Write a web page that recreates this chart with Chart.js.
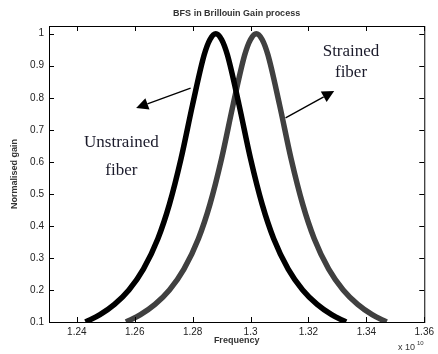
<!DOCTYPE html>
<html>
<head>
<meta charset="utf-8">
<script src="https://cdn.jsdelivr.net/npm/chart.js@4"></script>
<style>
  html, body { margin: 0; padding: 0; background: #fff; }
  #wrap { width: 438px; height: 354px; }
</style>
</head>
<body>
<div id="wrap"><canvas id="bfs"></canvas></div>
<script>
// Frequência em unidades de 1e10 Hz
const unstrainedFreq = [1.243, 1.248, 1.253, 1.258, 1.263, 1.268, 1.272, 1.276, 1.280, 1.284, 1.286, 1.288,
                        1.290, 1.292, 1.296, 1.300, 1.304, 1.308, 1.313, 1.318, 1.323, 1.328, 1.333];
const unstrainedGain = [0.1, 0.123, 0.155, 0.2, 0.265, 0.36, 0.468, 0.61, 0.779, 0.934, 0.982, 1,
                        0.982, 0.934, 0.779, 0.61, 0.468, 0.36, 0.265, 0.2, 0.155, 0.123, 0.1];
const strainedFreq = [1.257, 1.262, 1.267, 1.272, 1.277, 1.282, 1.286, 1.290, 1.294, 1.298, 1.300, 1.302,
                      1.304, 1.306, 1.310, 1.314, 1.318, 1.322, 1.327, 1.332, 1.337, 1.342, 1.347];
const strainedGain = [0.1, 0.123, 0.155, 0.2, 0.265, 0.36, 0.468, 0.61, 0.779, 0.934, 0.982, 1,
                      0.982, 0.934, 0.779, 0.61, 0.468, 0.36, 0.265, 0.2, 0.155, 0.123, 0.1];
const xTicks = [1.24, 1.26, 1.28, 1.30, 1.32, 1.34, 1.36];
const yTicks = [0.1, 0.2, 0.3, 0.4, 0.5, 0.6, 0.7, 0.8, 0.9, 1];

// Anotações (em coordenadas dos dados)
const labels = [
    { text: 'Strained', x: 1.3347, y: 0.943 },
    { text: 'fiber', x: 1.3347, y: 0.880 },
    { text: 'Unstrained', x: 1.2554, y: 0.659 },
    { text: 'fiber', x: 1.2554, y: 0.574 }
];
const arrows = [
    { from: [1.2793, 0.830], to: [1.2605, 0.768] },
    { from: [1.3121, 0.737], to: [1.3289, 0.821] }
];

function toPoints(xs, ys) {
    return xs.map((x, i) => ({ x: x, y: ys[i] }));
}

function fmt(v) {
    return String(Math.round(v * 100) / 100);
}

// Caixa, ticks internos e textos ao estilo Matlab
const matlabFrame = {
    id: 'matlabFrame',
    afterDraw(chart) {
        const ctx = chart.ctx;
        const a = chart.chartArea;
        const xs = chart.scales.x, ys = chart.scales.y;
        ctx.save();
        ctx.strokeStyle = '#000';
        ctx.lineWidth = 1;
        ctx.strokeRect(a.left + 0.5, a.top + 0.5, a.right - a.left, a.bottom - a.top);
        ctx.beginPath();
        xTicks.forEach(v => {
            const px = Math.round(xs.getPixelForValue(v)) + 0.5;
            ctx.moveTo(px, a.bottom); ctx.lineTo(px, a.bottom - 5);
            ctx.moveTo(px, a.top); ctx.lineTo(px, a.top + 5);
        });
        yTicks.forEach(v => {
            const py = Math.round(ys.getPixelForValue(v)) + 0.5;
            ctx.moveTo(a.left, py); ctx.lineTo(a.left + 5, py);
            ctx.moveTo(a.right, py); ctx.lineTo(a.right - 5, py);
        });
        ctx.stroke();

        // Setas
        ctx.fillStyle = '#000';
        arrows.forEach(ar => {
            const x1 = xs.getPixelForValue(ar.from[0]), y1 = ys.getPixelForValue(ar.from[1]);
            const x2 = xs.getPixelForValue(ar.to[0]), y2 = ys.getPixelForValue(ar.to[1]);
            const ang = Math.atan2(y2 - y1, x2 - x1);
            const hl = 12, hw = 6;
            ctx.beginPath();
            ctx.lineWidth = 1.3;
            ctx.moveTo(x1, y1);
            ctx.lineTo(x2 - hl * Math.cos(ang), y2 - hl * Math.sin(ang));
            ctx.stroke();
            ctx.beginPath();
            ctx.moveTo(x2, y2);
            ctx.lineTo(x2 - hl * Math.cos(ang) + hw * Math.sin(ang), y2 - hl * Math.sin(ang) - hw * Math.cos(ang));
            ctx.lineTo(x2 - hl * Math.cos(ang) - hw * Math.sin(ang), y2 - hl * Math.sin(ang) + hw * Math.cos(ang));
            ctx.closePath();
            ctx.fill();
        });

        // Rótulos das curvas
        ctx.font = '17px "Liberation Serif", "Times New Roman", serif';
        ctx.fillStyle = '#1a1a2a';
        ctx.textAlign = 'center';
        ctx.textBaseline = 'middle';
        labels.forEach(l => {
            ctx.fillText(l.text, xs.getPixelForValue(l.x), ys.getPixelForValue(l.y));
        });

        // Título e eixos
        ctx.font = 'bold 9px "Liberation Sans", Arial, sans-serif';
        ctx.fillStyle = '#333';
        ctx.fillText('BFS in Brillouin Gain process', (a.left + a.right) / 2, 14);
        ctx.fillText('Frequency', (a.left + a.right) / 2, 341);
        ctx.save();
        ctx.translate(15, (a.top + a.bottom) / 2);
        ctx.rotate(-Math.PI / 2);
        ctx.fillText('Normalised gain', 0, 0);
        ctx.restore();
        ctx.font = '9px "Liberation Sans", Arial, sans-serif';
        ctx.textAlign = 'left';
        ctx.fillText('x 10', 398, 348);
        ctx.font = '6px "Liberation Sans", Arial, sans-serif';
        ctx.fillText('10', 417, 343);
        ctx.restore();
    }
};

new Chart(document.getElementById('bfs'), {
    type: 'line',
    data: {
        datasets: [
            {
                label: 'Unstrained fiber',
                data: toPoints(unstrainedFreq, unstrainedGain),
                borderColor: '#000000',
                borderWidth: 5.5,
                pointRadius: 0,
                cubicInterpolationMode: 'monotone'
            },
            {
                label: 'Strained fiber',
                data: toPoints(strainedFreq, strainedGain),
                borderColor: '#404040',
                borderWidth: 5.5,
                pointRadius: 0,
                cubicInterpolationMode: 'monotone'
            }
        ]
    },
    options: {
        responsive: true,
        maintainAspectRatio: false,
        animation: false,
        layout: { padding: { top: 26, right: 10, left: 0, bottom: 0 } },
        plugins: {
            legend: { display: false },
            tooltip: { enabled: false }
        },
        scales: {
            x: {
                type: 'linear',
                min: 1.2304,
                max: 1.36,
                grid: { display: false, drawTicks: false },
                border: { display: false },
                afterBuildTicks(scale) { scale.ticks = xTicks.map(v => ({ value: v })); },
                afterFit(scale) { scale.height = 32; },
                ticks: {
                    padding: 4,
                    maxRotation: 0,
                    color: '#222',
                    font: { family: '"Liberation Sans", Arial, sans-serif', size: 10 },
                    callback: v => fmt(v)
                }
            },
            y: {
                min: 0.1,
                max: 1.024,
                grid: { display: false, drawTicks: false },
                border: { display: false },
                afterBuildTicks(scale) { scale.ticks = yTicks.map(v => ({ value: v })); },
                afterFit(scale) { scale.width = 49; },
                ticks: {
                    padding: 5,
                    color: '#222',
                    font: { family: '"Liberation Sans", Arial, sans-serif', size: 10 },
                    callback: v => fmt(v)
                }
            }
        }
    },
    plugins: [matlabFrame]
});
</script>
</body>
</html>
